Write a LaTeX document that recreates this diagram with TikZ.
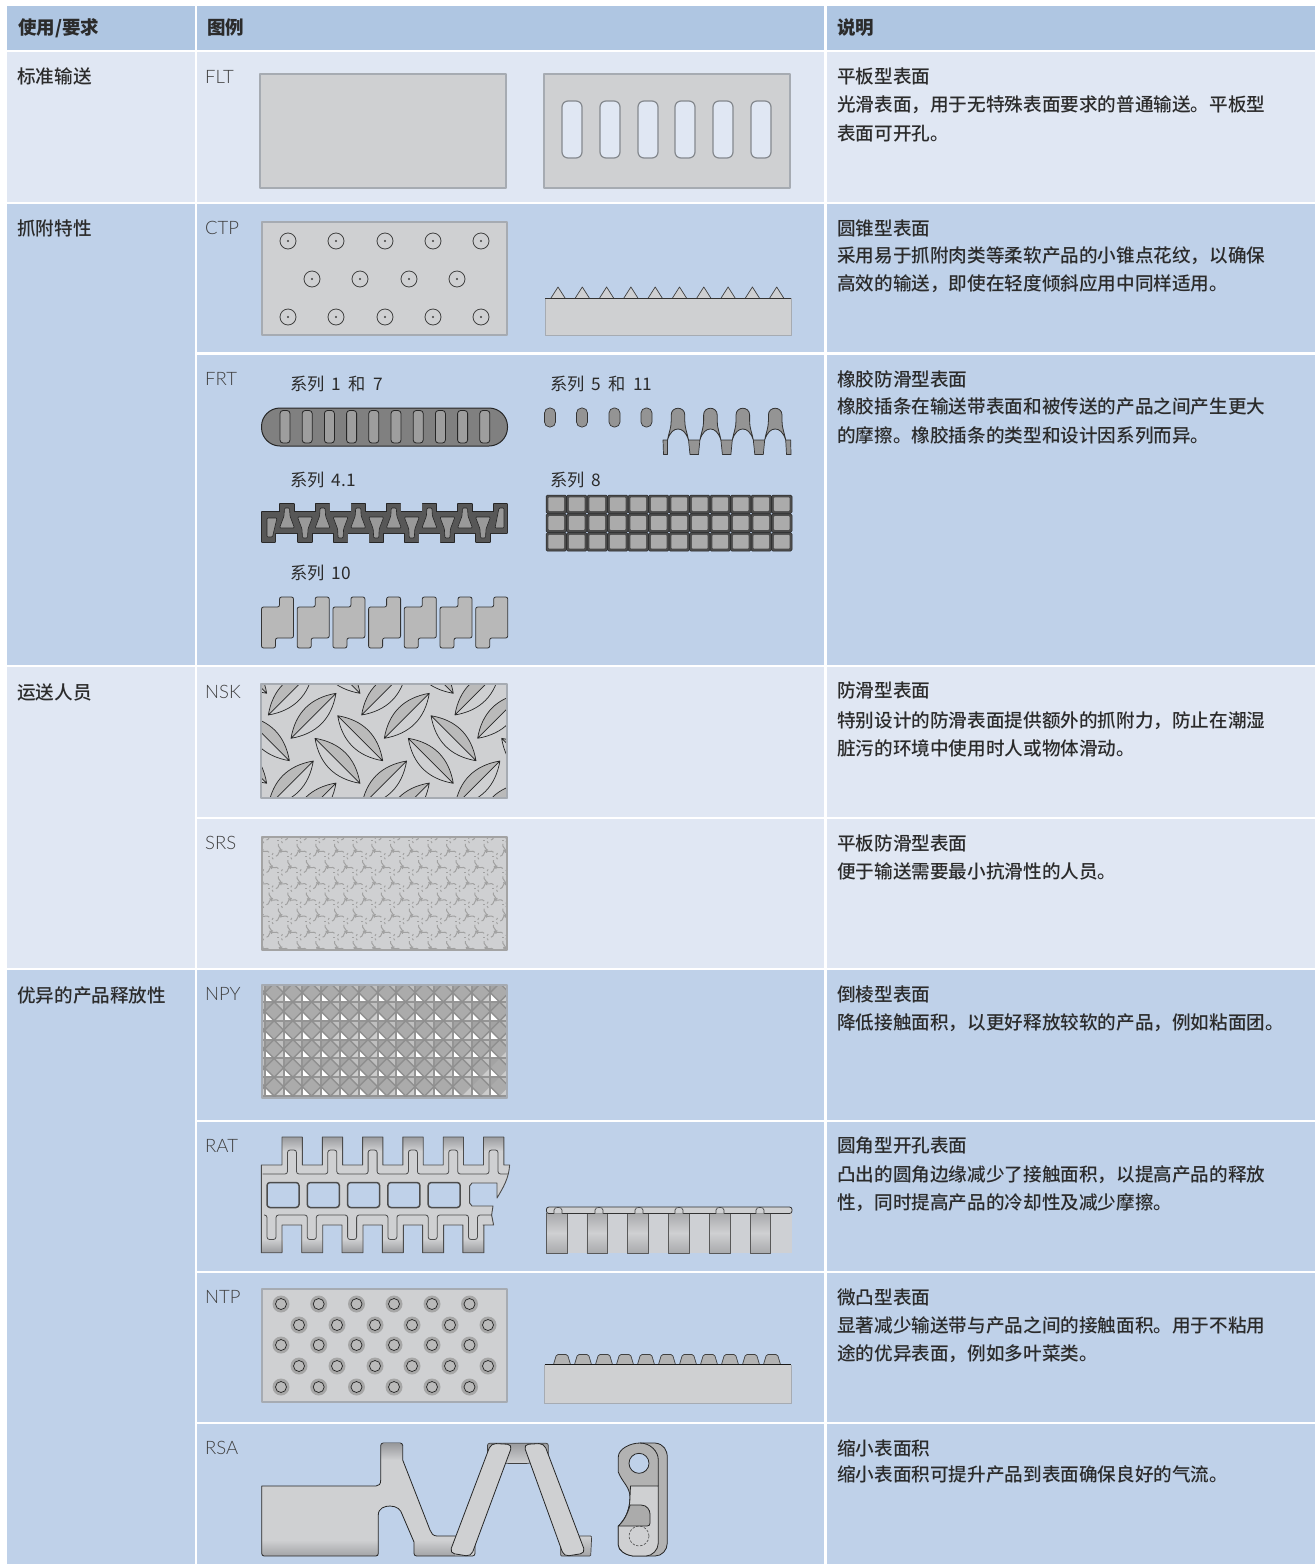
\documentclass[tikz,border=0pt]{standalone}
\usepackage{fontspec}
\setmainfont{Noto Sans CJK SC}
\IfFontExistsTF{Lato Light}{\newfontfamily\labfont{Lato Light}}{\newfontfamily\labfont{Lato}}
\IfFontExistsTF{Noto Sans CJK SC Medium}{\newfontfamily\medfont{Noto Sans CJK SC Medium}}{\newfontfamily\medfont{Noto Sans CJK SC}}
\newfontfamily\serfont[WordSpace=1.85]{Noto Sans CJK SC}
\definecolor{hdr}{HTML}{AFC6E2}
\definecolor{lite}{HTML}{E0E7F3}
\definecolor{deep}{HTML}{BFD1E9}
\definecolor{pan}{HTML}{CFD0D2}
\definecolor{panedge}{HTML}{A6ABB2}
\definecolor{ink}{HTML}{2B2B2B}
\definecolor{shade}{HTML}{9A9B9E}
\tikzset{
  txt/.style={anchor=base west,inner sep=0pt,text=ink,font=\fontsize{18.62}{22}\medfont},
  hd/.style={anchor=base west,inner sep=0pt,text=ink,font=\fontsize{18.5}{22}\selectfont\bfseries},
  lab/.style={anchor=base west,inner sep=0pt,text=black!75,font=\fontsize{18.5}{22}\labfont},
  ser/.style={anchor=base west,inner sep=0pt,text=ink,font=\fontsize{17.3}{20}\serfont},
  panel/.style={fill=pan,draw=panedge,line width=1.5pt},
  silA/.style={draw=black!85,line width=1.3pt},
  silB/.style={fill=black!66},
}
\begin{document}
\begin{tikzpicture}[x=1pt,y=-1pt,line join=round]
\useasboundingbox (0,0) rectangle (1315,1564);
% ---- table grid
\fill[white] (0,0) rectangle (1315,1564);
\fill[hdr] (6.5,6) rectangle (195,50);
\fill[hdr] (197,6) rectangle (824,50);
\fill[hdr] (826.5,6) rectangle (1315,50);
\fill[lite] (6.5,52) rectangle (195,202);
\fill[lite] (197,52) rectangle (824,202);
\fill[lite] (826.5,52) rectangle (1315,202);
\fill[deep] (6.5,204) rectangle (195,665);
\fill[deep] (197,204) rectangle (824,352);
\fill[deep] (826.5,204) rectangle (1315,352);
\fill[deep] (197,355) rectangle (824,665);
\fill[deep] (826.5,355) rectangle (1315,665);
\fill[lite] (6.5,667) rectangle (195,968);
\fill[lite] (197,667) rectangle (824,817);
\fill[lite] (826.5,667) rectangle (1315,817);
\fill[lite] (197,819) rectangle (824,968);
\fill[lite] (826.5,819) rectangle (1315,968);
\fill[deep] (6.5,970) rectangle (195,1564);
\fill[deep] (197,970) rectangle (824,1119.5);
\fill[deep] (826.5,970) rectangle (1315,1119.5);
\fill[deep] (197,1122) rectangle (824,1271);
\fill[deep] (826.5,1122) rectangle (1315,1271);
\fill[deep] (197,1273) rectangle (824,1422);
\fill[deep] (826.5,1273) rectangle (1315,1422);
\fill[deep] (197,1424) rectangle (824,1564);
\fill[deep] (826.5,1424) rectangle (1315,1564);
% ---- header & first column
\node[hd] (h1) at (18,34.5) {使用/要求};
\node[hd] (h2) at (207,34.5) {图例};
\node[hd] (h3) at (837,34.5) {说明};
\node[txt] (u1) at (17,83.5) {标准输送};
\node[txt] (u2) at (17,235) {抓附特性};
\node[txt] (u3) at (17,699) {运送人员};
\node[txt] (u4) at (17,1002) {优异的产品释放性};
% ---- codes
\node[lab] (c1) at (205,83) {FLT};
\node[lab] (c2) at (205,234) {CTP};
\node[lab] (c3) at (205,385) {FRT};
\node[lab] (c4) at (205,698) {NSK};
\node[lab] (c5) at (205,849) {SRS};
\node[lab] (c6) at (205,1000) {NPY};
\node[lab] (c7) at (205,1152) {RAT};
\node[lab] (c8) at (205,1303) {NTP};
\node[lab] (c9) at (205,1454) {RSA};
% ---- descriptions
\node[txt] (d1a) at (837,83) {平板型表面};
\node[txt] (d1b) at (837,111) {光滑表面，用于无特殊表面要求的普通输送。平板型};
\node[txt] (d1c) at (837,140) {表面可开孔。};
\node[txt] (d2a) at (837,235) {圆锥型表面};
\node[txt] (d2b) at (837,262) {采用易于抓附肉类等柔软产品的小锥点花纹，以确保};
\node[txt] (d2c) at (837,290) {高效的输送，即使在轻度倾斜应用中同样适用。};
\node[txt] (d3a) at (837,386) {橡胶防滑型表面};
\node[txt] (d3b) at (837,413) {橡胶插条在输送带表面和被传送的产品之间产生更大};
\node[txt] (d3c) at (837,442) {的摩擦。橡胶插条的类型和设计因系列而异。};
\node[txt] (d4a) at (837,697) {防滑型表面};
\node[txt] (d4b) at (837,727) {特别设计的防滑表面提供额外的抓附力，防止在潮湿};
\node[txt] (d4c) at (837,755) {脏污的环境中使用时人或物体滑动。};
\node[txt] (d5a) at (837,850) {平板防滑型表面};
\node[txt] (d5b) at (837,878) {便于输送需要最小抗滑性的人员。};
\node[txt] (d6a) at (837,1001) {倒棱型表面};
\node[txt] (d6b) at (837,1029) {降低接触面积，以更好释放较软的产品，例如粘面团。};
\node[txt] (d7a) at (837,1152) {圆角型开孔表面};
\node[txt] (d7b) at (837,1181) {凸出的圆角边缘减少了接触面积，以提高产品的释放};
\node[txt] (d7c) at (837,1209) {性，同时提高产品的冷却性及减少摩擦。};
\node[txt] (d8a) at (837,1304) {微凸型表面};
\node[txt] (d8b) at (837,1332) {显著减少输送带与产品之间的接触面积。用于不粘用};
\node[txt] (d8c) at (837,1360) {途的优异表面，例如多叶菜类。};
\node[txt] (d9a) at (837,1455) {缩小表面积};
\node[txt] (d9b) at (837,1481) {缩小表面积可提升产品到表面确保良好的气流。};
% ---- FLT
\draw[panel] (260,74) rectangle (506,188);
\draw[panel] (544,74) rectangle (790,188);
\foreach \x in {562,600,638,675,713,751}
  \draw[fill=lite,draw=panedge!80!black,line width=1.2pt,rounded corners=6pt] (\x,101) rectangle (\x+20,158);
% ---- CTP
\draw[panel] (262,222) rectangle (507,335);
\foreach \y in {241,317}\foreach \x in {288,336,385,433,481}{
  \draw[black!75,line width=0.8pt] (\x,\y) circle[radius=8pt];
  \fill[black!75] (\x,\y) circle[radius=1.1pt];}
\foreach \x in {312,360,409,457}{
  \draw[black!75,line width=0.8pt] (\x,279) circle[radius=8pt];
  \fill[black!75] (\x,279) circle[radius=1.1pt];}
\fill[pan] (545,298) rectangle (791,335);
\draw[panedge,line width=1pt] (545,298) -- (545,335) -- (791,335) -- (791,298);
\foreach \i in {0,...,9}
  \draw[fill=pan,draw=black!75,line width=0.7pt] ({558+24.3*\i-7},298) -- ({558+24.3*\i},287) -- ({558+24.3*\i+7},298);
\draw[black!80,line width=0.9pt] (545,298) -- (791,298);
% ---- FRT labels
\node[ser] (s1) at (290,390) {系列 1 和 7};
\node[ser] (s2) at (550,390) {系列 5 和 11};
\node[ser] (s3) at (290,486) {系列 4.1};
\node[ser] (s4) at (550,486) {系列 8};
\node[ser] (s5) at (290,579) {系列 10};
% series 1 and 7
\draw[fill=black!50,draw=black!85,line width=1pt,rounded corners=18.5pt] (261.5,408) rectangle (507.5,446);
\foreach \i in {0,...,9}
  \draw[fill=black!38,draw=black!85,line width=0.8pt,rounded corners=3pt] ({280+22.2*\i},410.5) rectangle ({290+22.2*\i},443);
% series 5 and 11
\foreach \x in {550,582,614.5,646.5}
  \draw[fill=black!42,draw=black!80,line width=0.7pt,rounded corners=5pt] (\x-5.5,408) rectangle (\x+5.5,427);
\foreach \i in {0,1,2,3}{
  \pgfmathsetmacro{\c}{678+32.4*\i}
  \draw[fill=black!42,draw=black!80,line width=0.8pt]
    (\c-10.5,440) .. controls (\c-9,432) and (\c-6.8,428) .. (\c-6.8,421) -- (\c-6.8,415)
    .. controls (\c-6.8,406) and (\c+6.8,406) .. (\c+6.8,415) -- (\c+6.8,421)
    .. controls (\c+6.8,428) and (\c+9,432) .. (\c+10.5,440)
    .. controls (\c+8,432) and (\c+4,429) .. (\c,429) .. controls (\c-4,429) and (\c-8,432) .. (\c-10.5,440) -- cycle;
}
\foreach \i in {0,1,2}{
  \pgfmathsetmacro{\c}{678+32.4*\i}
  \draw[fill=black!42,draw=black!80,line width=0.7pt] (\c+10.5,440) -- (\c+21.9,440) -- (\c+20.5,454.5) -- (\c+12,454.5) -- cycle;}
\draw[fill=black!42,draw=black!80,line width=0.7pt] (663,440) -- (667.5,440) -- (667.5,454.5) -- (663.5,454.5) -- cycle;
\draw[fill=black!42,draw=black!80,line width=0.7pt] (785.7,440) -- (790.7,440) -- (791,454.5) -- (786.5,454.5) -- cycle;
% series 4.1 (silhouette in two passes)
\foreach \st in {silA,silB}{
  \path[\st] (262,512) rectangle (507,533)
    (494,504) rectangle (507,512) (262,533) rectangle (275,542);
  \foreach \i in {0,...,5}{
    \path[\st] ({287+35.6*\i-7},504) rectangle ({287+35.6*\i+7},513);
    \path[\st] ({305+35.6*\i-7},532) rectangle ({305+35.6*\i+7},542);}
}
\foreach \i in {0,...,5}{
  \draw[fill=black!40,draw=black!85,line width=0.6pt,rounded corners=1pt]
    ({287+35.6*\i-2.5},508) -- ({287+35.6*\i+2.5},508) -- ({287+35.6*\i+3},516) -- ({287+35.6*\i+7.5},528) -- ({287+35.6*\i-7.5},528) -- ({287+35.6*\i-3},516) -- cycle;
  \draw[fill=black!40,draw=black!85,line width=0.6pt,rounded corners=1pt]
    ({305+35.6*\i-7.5},517) -- ({305+35.6*\i+7.5},517) -- ({305+35.6*\i+3},529) -- ({305+35.6*\i+2.5},538) -- ({305+35.6*\i-2.5},538) -- ({305+35.6*\i-3},529) -- cycle;}
\draw[fill=black!40,draw=black!85,line width=0.6pt,rounded corners=1pt] (267,518) -- (277,518) -- (272.5,537) -- (267,537) -- cycle;
\draw[fill=black!40,draw=black!85,line width=0.6pt,rounded corners=1pt] (499,508) -- (504,508) -- (504,528) -- (495,528) -- cycle;
% series 8
\foreach \r in {0,1,2}\foreach \c in {0,...,11}{
  \draw[fill=black!70,draw=black!85,line width=0.5pt,rounded corners=1.5pt]
    ({546+20.5*\c},{495+18.8*\r}) rectangle ({546+20.5*\c+20.5},{495+18.8*\r+18.6});
  \fill[black!33,rounded corners=1pt]
    ({546+20.5*\c+2.3},{495+18.8*\r+2.3}) rectangle ({546+20.5*\c+18.2},{495+18.8*\r+16});}
% series 10
\foreach \i in {0,...,6}{
  \begin{scope}[xshift={(261.5+35.7*\i)*1pt}]
  \draw[fill=black!28,draw=black!80,line width=0.8pt,rounded corners=2pt]
    (18,597) -- (32,597) -- (32,638) -- (14,638) -- (14,648) -- (0,648) -- (0,607) -- (18,607) -- cycle;
  \end{scope}}
% ---- NSK
\begin{scope}
\clip (261,684) rectangle (507,798);
\fill[pan] (261,684) rectangle (507,798);
\foreach \k in {-1,0,1,2}{
  \foreach \px/\py in {291/738.3,268.3/715,268.3/806,291/828}{
    \pgfmathsetmacro{\ax}{\px+93.3*\k}
    \fill[black!27] (\ax,\py) .. controls (\ax+4.4,\py-25.6) and (\ax+19.4,\py-40.6) .. (\ax+45,\py-45) -- cycle;
    \draw[black!85,line width=0.7pt] (\ax,\py) .. controls (\ax+4.4,\py-25.6) and (\ax+19.4,\py-40.6) .. (\ax+45,\py-45)
      .. controls (\ax+40.6,\py-19.4) and (\ax+25.6,\py-4.4) .. (\ax,\py) -- (\ax+45,\py-45);
  }
  \foreach \px/\py in {337.7/715.7,315/738.3,315/648.3}{
    \pgfmathsetmacro{\ax}{\px+93.3*\k}
    \fill[black!27] (\ax,\py) .. controls (\ax+25.6,\py+4.4) and (\ax+40.6,\py+19.4) .. (\ax+45,\py+45) -- cycle;
    \draw[black!85,line width=0.7pt] (\ax,\py) .. controls (\ax+25.6,\py+4.4) and (\ax+40.6,\py+19.4) .. (\ax+45,\py+45)
      .. controls (\ax+19.4,\py+40.6) and (\ax+4.4,\py+25.6) .. (\ax,\py) -- (\ax+45,\py+45);
  }
}
\end{scope}
\draw[panedge,line width=1.3pt] (261,684) rectangle (507,798);
% ---- SRS
\begin{scope}
\clip (262,837) rectangle (507,950);
\fill[pan] (262,837) rectangle (507,950);
\foreach \j in {0,...,7}\foreach \i in {-1,...,13}{
  \pgfmathsetmacro{\x}{262+18.7*\i+9.35*mod(\j,2)}
  \pgfmathsetmacro{\y}{840+16.2*\j}
  \foreach \a in {0,120,240}{
    \draw[black!37,line width=1pt,rotate around={\a:(\x,\y)}]
      (\x+4.5,\y) .. controls (\x+8,\y) and (\x+6.5,\y-6.5) .. (\x+11,\y-6.5);
    \draw[black!37,line width=1pt,rotate around={\a+60:(\x,\y)}] (\x+1.5,\y) -- (\x+3.5,\y);
  }
}
\end{scope}
\draw[black!36,line width=1.3pt] (262,837) rectangle (507,950);
% ---- NPY
\begin{scope}
\clip (262,985) rectangle (507,1098);
\fill[black!33] (262,985) rectangle (507,1098);
\foreach \j in {-1,...,6}\foreach \i in {-1,...,13}{
  \pgfmathsetmacro{\x}{264.7+18.8*\i}
  \pgfmathsetmacro{\y}{1002+18.8*\j}
  \fill[white] (\x,\y-9.4) -- (\x,\y) -- (\x+9.4,\y) -- cycle;
  \fill[black!20] (\x+18.8,\y-9.4) -- (\x+18.8,\y) -- (\x+9.4,\y) -- cycle;
  \fill[black!36] (\x,\y+9.4) -- (\x,\y) -- (\x+9.4,\y) -- cycle;
  \fill[black!25] (\x+18.8,\y+9.4) -- (\x+18.8,\y) -- (\x+9.4,\y) -- cycle;
  \draw[black!42,line width=2pt] (\x,985) -- (\x,1098);
}
\foreach \j in {-1,...,6}{
  \draw[black!42,line width=2pt] (262,{1002+18.8*\j}) -- (507,{1002+18.8*\j});}
\foreach \k in {-8,...,14}{
  \draw[black!44,line width=1.4pt] ({264.7+9.4+18.8*\k},1002) ++(-120,-120) -- ++(240,240);
  \draw[black!44,line width=1.4pt] ({264.7+9.4+18.8*\k},1002) ++(120,-120) -- ++(-240,240);}
\end{scope}
\draw[panedge,line width=1.3pt] (262,985) rectangle (507,1098);
% ---- RAT front
\def\ratout{(261.4,1165)
  \foreach \i in {0,...,5}{ -- ({282+40.3*\i},1165) -- ({282+40.3*\i},1137) -- ({302.3+40.3*\i},1137) -- ({302.3+40.3*\i},1165)}
  -- (509.6,1165) .. controls (509,1178) and (503,1188) .. (497,1198) -- (497,1183) -- (472,1183) -- (469.6,1186) -- (469.6,1203) -- (472,1206) -- (493,1206) -- (491.6,1215) -- (493.6,1225) -- (483,1225)
  \foreach \i in {5,...,1}{ -- ({261.4+40.3*\i+21},1225) -- ({261.4+40.3*\i+21},1252.7) -- ({261.4+40.3*\i},1252.7) -- ({261.4+40.3*\i},1225)}
  -- (282,1225) -- (282,1252.7) -- (261.4,1252.7) -- cycle}
\fill[pan] \ratout;
\foreach \i in {0,...,5}{
  \shade[top color=shade,bottom color=pan] ({282+40.3*\i},1137) rectangle ({302.3+40.3*\i},1151);
  \shade[top color=pan,bottom color=shade] ({261.4+40.3*\i},1239) rectangle ({282.4+40.3*\i},1252.7);}
\draw[black!70,line width=0.9pt] \ratout;
\foreach \i in {0,...,4}
  \draw[fill=deep,draw=black!70,line width=1.5pt,rounded corners=3pt] ({267+40.3*\i},1182.5) rectangle ({299+40.3*\i},1207.5);
\draw[black!70,line width=0.8pt,rounded corners=2.5pt] (262.5,1174)
  \foreach \i in {0,...,5}{ -- ({287.5+40.3*\i},1174) -- ({287.5+40.3*\i},1150) -- ({296.5+40.3*\i},1150) -- ({296.5+40.3*\i},1174)} -- (508,1174);
\draw[black!70,line width=0.8pt,rounded corners=2.5pt] (264,1215)
  \foreach \i in {0,...,5}{ -- ({267+40.3*\i},1215) -- ({267+40.3*\i},1239.5) -- ({276+40.3*\i},1239.5) -- ({276+40.3*\i},1215)} -- (492,1215);
% ---- RAT side
\fill[pan!92!deep] (546.4,1213) rectangle (792,1253);
\foreach \x in {546.4,586.8,627.5,668.6,709.3,750}{
  \shade[top color=shade!85,bottom color=shade!85,middle color=pan] (\x,1213) rectangle (\x+20.5,1253);
  \draw[black!65,line width=0.6pt] (\x,1213) -- (\x,1253) -- (\x+20.5,1253) -- (\x+20.5,1213);}
\draw[fill=pan,draw=black!80,line width=0.8pt,rounded corners=2.5pt] (546.4,1213.5) -- (546.4,1207) -- (792,1207) -- (792,1213.5) -- cycle;
\foreach \x in {558,599,639,679,720,760}
  \draw[fill=pan,draw=black!75,line width=0.6pt] (\x-4,1213.5) -- (\x-4,1210) .. controls (\x-4,1206.5) and (\x+4,1206.5) .. (\x+4,1210) -- (\x+4,1213.5);
% ---- NTP
\draw[panel] (262,1289) rectangle (507,1402);
\foreach \y in {1304,1345,1387}\foreach \x in {281,318.7,356.5,394,432,469.5}{
  \fill[black!35] (\x,\y) circle[radius=8.5pt];
  \draw[fill=black!27,draw=black!85,line width=0.7pt] (\x,\y) circle[radius=5.5pt];}
\foreach \y in {1325,1366}\foreach \x in {299,337,375,412,450,488}{
  \fill[black!35] (\x,\y) circle[radius=8.5pt];
  \draw[fill=black!27,draw=black!85,line width=0.7pt] (\x,\y) circle[radius=5.5pt];}
\fill[pan] (544.7,1364.5) rectangle (791.4,1403);
\draw[panedge,line width=0.8pt] (544.7,1364.5) -- (544.7,1403) -- (791.4,1403) -- (791.4,1364.5);
\foreach \i in {0,...,10}
  \draw[fill=black!30,draw=black!75,line width=0.7pt,rounded corners=1.5pt] ({562+21*\i-8.5},1364.5) -- ({562+21*\i-5.5},1354.5) -- ({562+21*\i+5.5},1354.5) -- ({562+21*\i+8.5},1364.5);
\draw[black!90,line width=0.9pt] (544.7,1364.5) -- (791.4,1364.5);
% ---- RSA main
\def\rsaout{[rounded corners=2.5pt] (261.7,1486) -- (261.7,1556) -- (378.3,1556) [sharp corners] -- (378.3,1515) .. controls (378.3,1508) and (385,1506) .. (390,1506) .. controls (397,1506) and (401,1510) .. (402,1514) -- (414,1542) [rounded corners=2.5pt] -- (414,1556) -- (475,1556) -- (475,1536) [sharp corners] -- (437,1536) .. controls (433,1536) and (431,1533) .. (430,1530) -- (402.7,1460) [rounded corners=2.5pt] -- (402.7,1443) -- (380.7,1443) [sharp corners] -- (380.7,1480) .. controls (380.7,1484) and (379,1486) .. (376,1486) -- cycle}
\fill[pan] \rsaout;
\shade[top color=shade,bottom color=pan] (381.5,1444) rectangle (402,1460);
\shade[top color=pan,bottom color=shade!90] (262.5,1540) rectangle (378,1555.5);
\shade[top color=pan,bottom color=shade!90] (414.5,1540) rectangle (455,1555.5);
\draw[black!85,line width=0.8pt] \rsaout;
% RSA bridge and feet
\draw[top color=shade,bottom color=pan,draw=black!75,line width=0.7pt,rounded corners=2pt] (487.5,1458) -- (487.5,1443.3) -- (548.3,1443.3) -- (548.3,1458) -- (528.3,1463.5) -- (506.7,1463.5) -- cycle;
\draw[top color=pan,bottom color=shade!90,draw=black!75,line width=0.7pt,rounded corners=1pt] (560.7,1541) -- (560.7,1556) -- (590.7,1556) -- (591.7,1536) -- (578,1536) -- cycle;
\draw[fill=pan,draw=black!85,line width=0.8pt,rounded corners=5pt] (491,1443.3) -- (512.5,1444.5) -- (471,1556.5) -- (449.5,1553) -- cycle;
\draw[fill=pan,draw=black!85,line width=0.8pt,rounded corners=5pt] (523.5,1444.5) -- (544,1443.3) -- (585.5,1553) -- (564,1556.5) -- cycle;
% RSA side piece
\draw[fill=black!30,draw=black!85,line width=0.8pt] (618.3,1457) .. controls (618.3,1449) and (630,1443) .. (640,1443) -- (655,1443) .. controls (664,1444) and (667.3,1450) .. (667.3,1458) -- (667.3,1543) .. controls (667.3,1550) and (662,1556) .. (655,1556) -- (633,1556) .. controls (625,1555) and (618.3,1550) .. (618.3,1545) -- (618.3,1526) .. controls (625,1520) and (630,1510) .. (630,1497) .. controls (630,1487) and (622,1482) .. (618.3,1472) -- cycle;
\draw[fill=pan,draw=black!85,line width=0.8pt] (630.5,1486) -- (658.3,1486) -- (658.3,1543) .. controls (658.3,1550) and (652,1556) .. (646,1556) -- (633,1556) .. controls (625,1555) and (618.3,1550) .. (618.3,1545) -- (618.3,1526) .. controls (625,1520) and (630,1510) .. (630,1497) -- cycle;
\draw[black!85,line width=0.8pt] (640,1443) .. controls (650,1443) and (658.3,1451) .. (658.3,1460) -- (658.3,1486);
\draw[fill=black!33,draw=black!85,line width=0.8pt] (630,1505) -- (641,1505) .. controls (647,1505) and (650,1510) .. (650,1514) -- (650,1523) .. controls (650,1525) and (649,1526) .. (647,1526) -- (618.3,1526) .. controls (624,1521) and (628,1513) .. (630,1505) -- cycle;
\draw[fill=deep,draw=black!85,line width=0.8pt] (639,1463.3) circle[radius=10pt];
\draw[black!70,line width=0.6pt,dash pattern=on 2.5pt off 1.5pt] (639,1536) circle[radius=10pt];
\end{tikzpicture}
\end{document}
